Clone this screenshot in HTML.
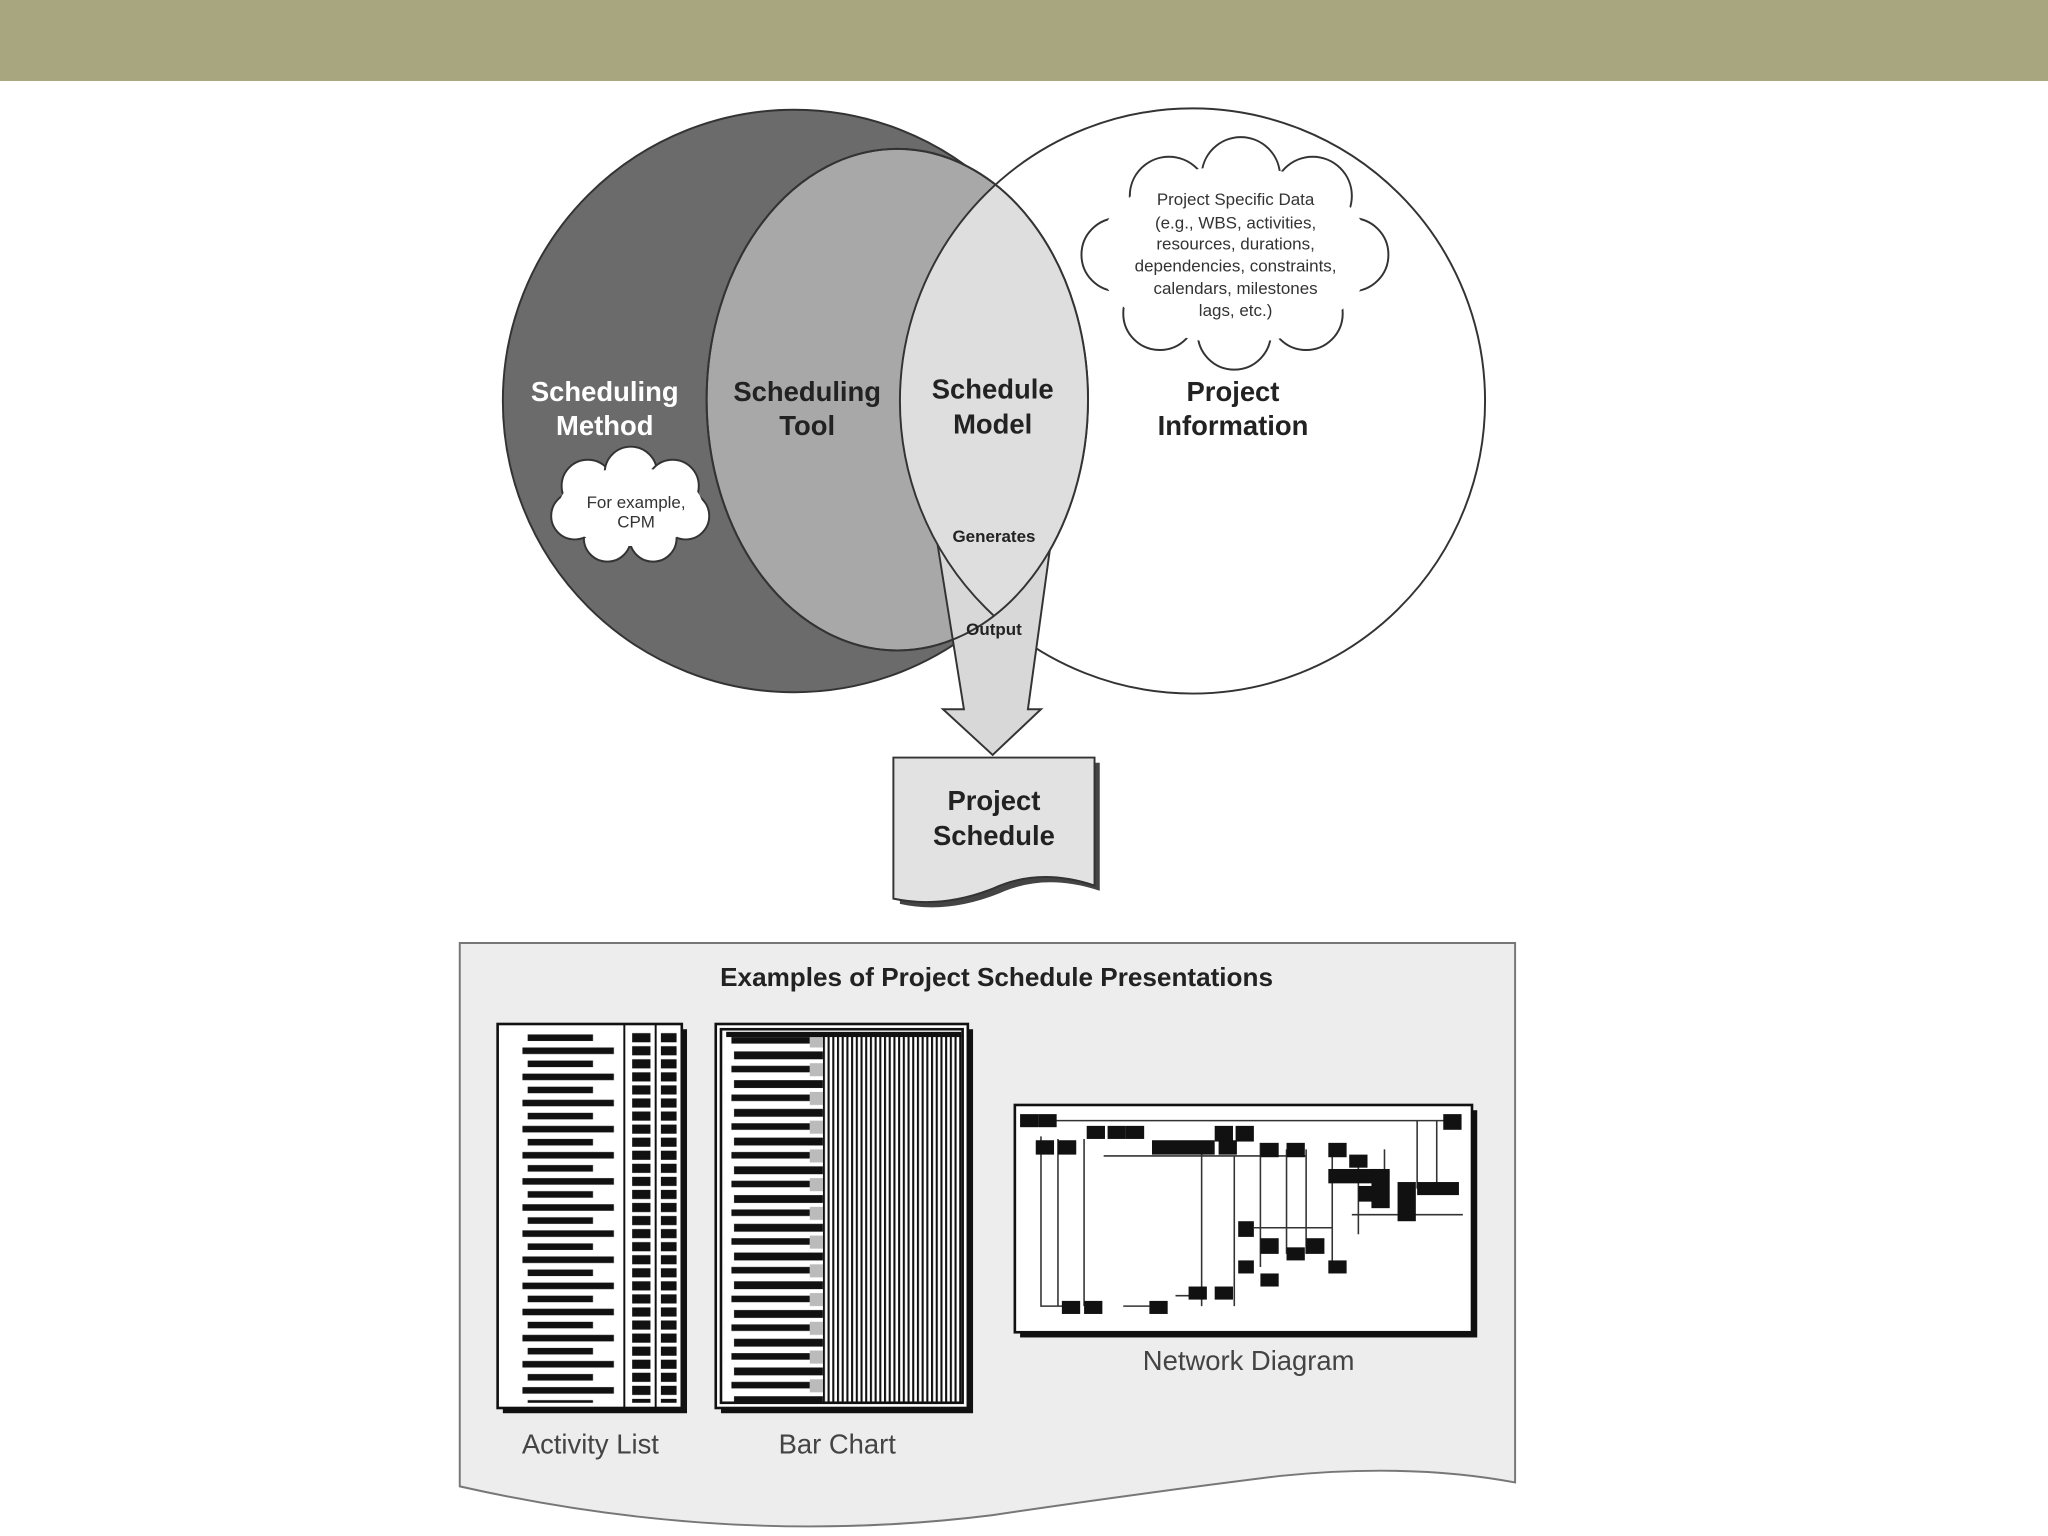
<!DOCTYPE html>
<html><head><meta charset="utf-8"><style>html,body{margin:0;padding:0;background:#fff;width:2048px;height:1536px;overflow:hidden}svg{display:block}</style></head><body>
<svg width="2048" height="1536" viewBox="0 0 1568 1176" xmlns="http://www.w3.org/2000/svg" font-family="'Liberation Sans', sans-serif">
<defs>
<clipPath id="cm"><ellipse cx="687" cy="306" rx="146" ry="192"/></clipPath>
<pattern id="al" width="100" height="20" patternUnits="userSpaceOnUse"><rect x="0" y="2" width="70" height="5" fill="#111"/><rect x="4" y="12" width="50" height="5" fill="#111"/></pattern>
<pattern id="alc" width="14" height="10" patternUnits="userSpaceOnUse"><rect x="0" y="1" width="14" height="7" fill="#111"/></pattern>
<pattern id="bl" width="80" height="22" patternUnits="userSpaceOnUse"><rect x="0" y="2" width="60" height="5" fill="#111"/><rect x="2" y="13" width="70" height="6" fill="#111"/><rect x="60" y="0" width="15" height="10" fill="#bbb"/></pattern>
<pattern id="vg" width="3.6" height="10" patternUnits="userSpaceOnUse"><rect x="0" y="0" width="1.6" height="10" fill="#111"/></pattern>
</defs>
<rect width="1568" height="1176" fill="#fff"/>
<rect width="1568" height="62" fill="#a8a67e"/>
<circle cx="608" cy="307" r="223" fill="#6b6b6b" stroke="#333" stroke-width="1.5"/>
<circle cx="913" cy="307" r="224" fill="#fff" stroke="#333" stroke-width="1.5"/>
<ellipse cx="687" cy="306" rx="146" ry="192" fill="#a8a8a8" stroke="#333" stroke-width="1.5"/>
<polygon points="718,418 760,440 806,405 787,543 797,543 760,578 722,543 738,543" fill="#d8d8d8" stroke="#333" stroke-width="1.5"/>
<circle cx="913" cy="307" r="224" fill="#dedede" stroke="#333" stroke-width="1.5" clip-path="url(#cm)"/>
<ellipse cx="687" cy="306" rx="146" ry="192" fill="none" stroke="#333" stroke-width="1.5" clip-path="url(#cr)"/>
<g fill="#fff" stroke="#333" stroke-width="1.5">
<circle cx="450" cy="372" r="20"/><circle cx="483" cy="362" r="20"/><circle cx="515" cy="372" r="20"/><circle cx="525" cy="395" r="18"/><circle cx="500" cy="412" r="18"/><circle cx="465" cy="412" r="18"/><circle cx="440" cy="395" r="18"/>
</g>
<ellipse cx="483" cy="388" rx="55" ry="30" fill="#fff"/>
<g fill="#fff" stroke="#333" stroke-width="1.5">
<circle cx="895" cy="150" r="30"/><circle cx="950" cy="135" r="30"/><circle cx="1005" cy="150" r="30"/><circle cx="1035" cy="195" r="28"/><circle cx="1000" cy="240" r="28"/><circle cx="945" cy="255" r="28"/><circle cx="888" cy="240" r="28"/><circle cx="856" cy="195" r="28"/>
</g>
<ellipse cx="945" cy="195" rx="105" ry="68" fill="#fff"/>
<g font-size="13" fill="#333" text-anchor="middle">
<text x="946" y="157">Project Specific Data</text><text x="946" y="175">(e.g., WBS, activities,</text><text x="946" y="191">resources, durations,</text><text x="946" y="208">dependencies, constraints,</text><text x="946" y="225">calendars, milestones</text><text x="946" y="242">lags, etc.)</text>
<text x="487" y="389">For example,</text><text x="487" y="404">CPM</text>
</g>
<g font-size="21" font-weight="bold" text-anchor="middle">
<text x="463" y="307" fill="#fff">Scheduling</text><text x="463" y="333" fill="#fff">Method</text>
<text x="618" y="307" fill="#222">Scheduling</text><text x="618" y="333" fill="#222">Tool</text>
<text x="760" y="305" fill="#222">Schedule</text><text x="760" y="332" fill="#222">Model</text>
<text x="944" y="307" fill="#222">Project</text><text x="944" y="333" fill="#222">Information</text>
</g>
<text x="761" y="415" font-size="13" font-weight="bold" text-anchor="middle" fill="#222">Generates</text>
<text x="761" y="486" font-size="13" font-weight="bold" text-anchor="middle" fill="#222">Output</text>
<path d="M689,584 H842 V682 Q800,668 765,684 Q725,700 689,692 Z" fill="#444"/>
<path d="M684,580 H838 V678 Q796,664 761,680 Q721,696 684,688 Z" fill="#e2e2e2" stroke="#333" stroke-width="1.5"/>
<text x="761" y="620" font-size="21" font-weight="bold" text-anchor="middle" fill="#222">Project</text>
<text x="761" y="647" font-size="21" font-weight="bold" text-anchor="middle" fill="#222">Schedule</text>
<path d="M352,722 H1160 V1135 Q1080,1120 980,1130 Q860,1145 760,1160 Q560,1185 352,1138 Z" fill="#ededed" stroke="#777" stroke-width="1.5"/>
<text x="763" y="755" font-size="20" font-weight="bold" text-anchor="middle" fill="#222">Examples of Project Schedule Presentations</text>
<rect x="385" y="788" width="141" height="294" fill="#111"/>
<rect x="381" y="784" width="141" height="294" fill="#fff" stroke="#111" stroke-width="2"/>
<rect x="388" y="790" width="85" height="284" fill="url(#al)"/>
<rect x="484" y="790" width="14" height="284" fill="url(#alc)"/>
<rect x="506" y="790" width="12" height="284" fill="url(#alc)"/>
<line x1="478" y1="784" x2="478" y2="1078" stroke="#111" stroke-width="1.5"/><line x1="502" y1="784" x2="502" y2="1078" stroke="#111" stroke-width="1.5"/>
<rect x="552" y="788" width="193" height="294" fill="#111"/>
<rect x="548" y="784" width="193" height="294" fill="#fff" stroke="#111" stroke-width="2"/>
<rect x="552" y="788" width="185" height="286" fill="none" stroke="#111" stroke-width="2"/>
<rect x="555" y="792" width="75" height="282" fill="url(#bl)"/>
<rect x="630" y="792" width="108" height="282" fill="url(#vg)"/>
<rect x="556" y="790" width="180" height="4" fill="#111"/>
<rect x="781" y="850" width="350" height="174" fill="#111"/>
<rect x="777" y="846" width="350" height="174" fill="#fff" stroke="#111" stroke-width="2"/>
<g stroke="#333" stroke-width="1.2" fill="none">
<path d="M797,858 H1110 M797,870 V1000 H815 M810,872 V1000 M830,872 V1000 M845,885 H1000 M920,880 V1000 M945,885 V1000 M860,1000 H880 M900,992 H920 M965,875 V970 M985,880 V960 M1000,880 V960 M1020,880 V975 M1040,890 V945 M1060,880 V920 M1085,858 V910 M1100,858 V910 M1035,930 H1120 M960,940 H1020"/>
</g>
<g fill="#111">
<rect x="781" y="853" width="14" height="10"/><rect x="795" y="853" width="14" height="10"/><rect x="1105" y="853" width="14" height="12"/>
<rect x="832" y="862" width="14" height="10"/><rect x="848" y="862" width="14" height="10"/><rect x="862" y="862" width="14" height="10"/>
<rect x="930" y="862" width="14" height="12"/><rect x="946" y="862" width="14" height="12"/>
<rect x="793" y="873" width="14" height="11"/><rect x="810" y="873" width="14" height="11"/>
<rect x="882" y="873" width="48" height="11"/><rect x="933" y="873" width="14" height="11"/>
<rect x="965" y="875" width="14" height="11"/><rect x="985" y="875" width="14" height="11"/><rect x="1017" y="875" width="14" height="11"/>
<rect x="1033" y="884" width="14" height="10"/><rect x="1017" y="895" width="40" height="11"/><rect x="1050" y="895" width="14" height="30"/>
<rect x="1070" y="905" width="14" height="30"/><rect x="1085" y="905" width="32" height="10"/><rect x="1040" y="908" width="14" height="12"/>
<rect x="948" y="935" width="12" height="12"/><rect x="965" y="948" width="14" height="12"/><rect x="985" y="955" width="14" height="10"/><rect x="1000" y="948" width="14" height="12"/>
<rect x="948" y="965" width="12" height="10"/><rect x="1017" y="965" width="14" height="10"/><rect x="965" y="975" width="14" height="10"/>
<rect x="813" y="996" width="14" height="10"/><rect x="830" y="996" width="14" height="10"/><rect x="880" y="996" width="14" height="10"/><rect x="910" y="985" width="14" height="10"/><rect x="930" y="985" width="14" height="10"/>
</g>
<g font-size="21" fill="#444" text-anchor="middle">
<text x="452" y="1113">Activity List</text>
<text x="641" y="1113">Bar Chart</text>
<text x="956" y="1049">Network Diagram</text>
</g>
</svg>
</body></html>
